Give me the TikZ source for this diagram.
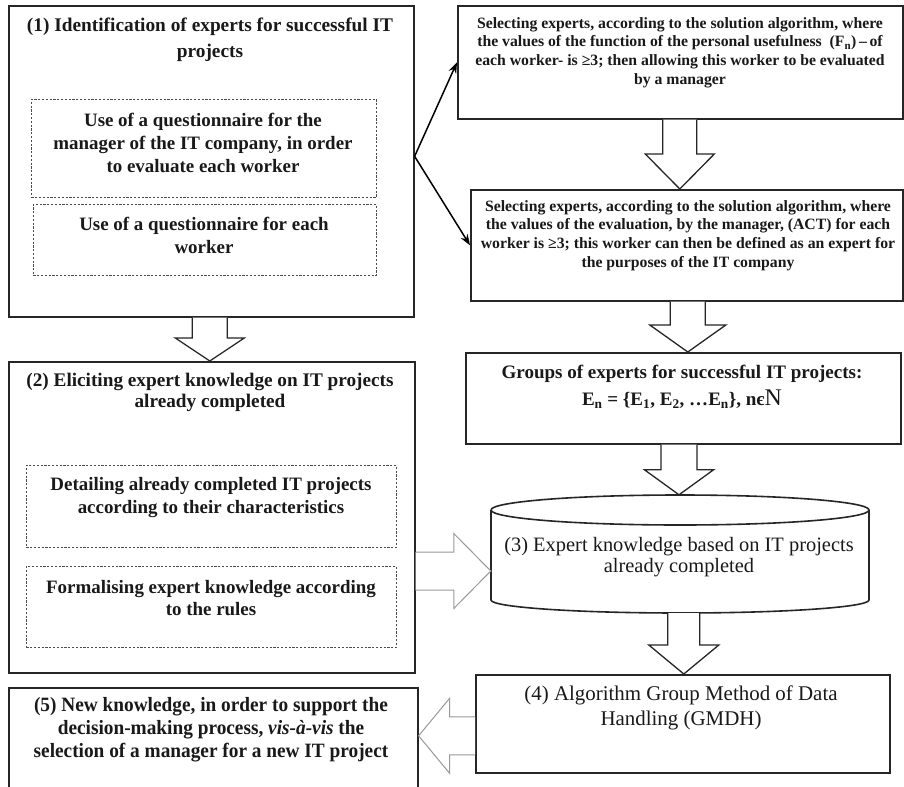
\documentclass[tikz,border=0pt]{standalone}
\usepackage{fontspec}
\setmainfont{Liberation Serif}
\newfontfamily\condserif[FakeStretch=0.95]{Liberation Serif}
\usetikzlibrary{calc,arrows.meta}

% hollow block arrow pointing down: style, source point, tip point, shaft half width, head half width, head length
\newcommand\dnblock[6]{%
  \draw[#1] let \p1=(#2), \p2=(#3) in
    (\x2-#4bp,\y1) -- (\x2-#4bp,\y2+#6bp) -- (\x2-#5bp,\y2+#6bp) -- (\x2,\y2)
    -- (\x2+#5bp,\y2+#6bp) -- (\x2+#4bp,\y2+#6bp) -- (\x2+#4bp,\y1);}
% hollow block arrow pointing right
\newcommand\rtblock[6]{%
  \draw[#1] let \p1=(#2), \p2=(#3) in
    (\x1,\y2+#4bp) -- (\x2-#6bp,\y2+#4bp) -- (\x2-#6bp,\y2+#5bp) -- (\x2,\y2)
    -- (\x2-#6bp,\y2-#5bp) -- (\x2-#6bp,\y2-#4bp) -- (\x1,\y2-#4bp);}
% hollow block arrow pointing left
\newcommand\ltblock[6]{%
  \draw[#1] let \p1=(#2), \p2=(#3) in
    (\x1,\y2+#4bp) -- (\x2+#6bp,\y2+#4bp) -- (\x2+#6bp,\y2+#5bp) -- (\x2,\y2)
    -- (\x2+#6bp,\y2-#5bp) -- (\x2+#6bp,\y2-#4bp) -- (\x1,\y2-#4bp);}

\begin{document}
\begin{tikzpicture}[x=1bp,y=-1bp,
  box/.style={draw=black!85, line width=1.6bp, rectangle, inner sep=0, anchor=north west},
  dbox/.style={draw=black!70, line width=0.9bp, dash pattern=on 2.2bp off 1.6bp,
               rectangle, inner sep=0, anchor=north west},
  lbl/.style={align=center, inner sep=0, text=black!90},
  bigb/.style={lbl, font=\bfseries\fontsize{19.4}{26}\selectfont},
  midb/.style={lbl, font=\bfseries\fontsize{19}{23}\selectfont},
  smallb/.style={lbl, font=\bfseries\fontsize{15.8}{18.8}\selectfont},
  block/.style={draw=black!85, line width=1.3bp, fill=white, line join=miter},
  gblock/.style={draw=black!40, line width=1bp, fill=white, line join=miter},
  link/.style={draw=black, line width=1.5bp, -{Stealth[length=11bp,width=8bp]}}
]
\useasboundingbox (0,0) rectangle (904,787);
\clip (0,0) rectangle (904,787);
\fill[white] (0,0) rectangle (904,787);

% ---- left column
\node[box, minimum width=405bp, minimum height=311bp] (b1) at (8,5) {};
\node[bigb] (t1) at (210,39.5) {(1) Identification of experts for successful IT\\projects};
\node[dbox, minimum width=345bp, minimum height=98bp] (dA) at (31,99) {};
\node[midb] (tA) at (203,143) {Use of a questionnaire for the\\manager of the IT company, in order\\to evaluate each worker};
\node[dbox, minimum width=343bp, minimum height=71bp] (dB) at (33,204) {};
\node[midb] (tB) at (204,235.5) {Use of a questionnaire for each\\worker};

\node[box, minimum width=406bp, minimum height=311bp] (b2) at (8,361) {};
\node[bigb, font=\bfseries\fontsize{19.3}{21}\selectfont] (t2) at (210,392.5) {(2) Eliciting expert knowledge on IT projects\\already completed};
\node[dbox, minimum width=370bp, minimum height=82bp] (dC) at (26,465) {};
\node[midb] (tC) at (211,497.5) {Detailing already completed IT projects\\according to their characteristics};
\node[dbox, minimum width=370bp, minimum height=81bp] (dD) at (26,566) {};
\node[midb, font=\bfseries\fontsize{19}{22}\selectfont] (tD) at (211,598) {Formalising expert knowledge according\\to the rules};

\node[box, minimum width=409bp, minimum height=120bp] (b5) at (8,687) {};
\node[lbl, font=\condserif\bfseries\fontsize{20.4}{23}\selectfont] (t5) at (211,730)
  {(5) New knowledge, in order to support the\\decision-making process, \textit{vis-à-vis} the\\selection of a manager for a new IT project};

% ---- right column
\node[box, minimum width=445bp, minimum height=113bp] (r1) at (457,5) {};
\node[smallb] (tr1) at (680,52.5)
  {Selecting experts, according to the solution algorithm, where\\
   the values of the function of the personal usefulness\ \ (F\textsubscript{n})\,–\,of\\
   each worker- is ≥3; then allowing this worker to be evaluated\\
   by a manager};
\node[box, minimum width=432bp, minimum height=111bp] (r2) at (470,189) {};
\node[smallb] (tr2) at (688,235.5)
  {Selecting experts, according to the solution algorithm, where\\
   the values of the evaluation, by the manager, (ACT) for each\\
   worker is ≥3; this worker can then be defined as an expert for\\
   the purposes of the IT company};
\node[box, minimum width=435bp, minimum height=91bp] (g) at (465,352) {};
\node[bigb, font=\bfseries\fontsize{19.1}{27}\selectfont] (tg) at (682,386.5)
  {Groups of experts for successful IT projects:\\
   E\textsubscript{n} = \{E\textsubscript{1}, E\textsubscript{2}, …E\textsubscript{n}\}, nє{\mdseries\fontsize{24}{24}\selectfont N}};

% knowledge base cylinder
\node[inner sep=0, minimum width=378bp, minimum height=118bp] (cyl) at (680,554) {};
\draw[black!85, line width=1.6bp, fill=white]
  (491,510) -- (491,600) arc[start angle=180, end angle=360, x radius=189bp, y radius=13bp]
  -- (869,510) arc[start angle=0, end angle=180, x radius=189bp, y radius=15bp];
\draw[black!85, line width=1.6bp] (491,510) arc[start angle=180, end angle=360, x radius=189bp, y radius=15bp];
\node[lbl, font=\fontsize{20.5}{21}\selectfont] (tcyl) at (679,557.5)
  {(3) Expert knowledge based on IT projects\\already completed};

\node[box, minimum width=414bp, minimum height=98bp] (b4) at (475,674) {};
\node[lbl, font=\fontsize{21}{25}\selectfont] (t4) at (681,707.5)
  {(4) Algorithm Group Method of Data\\Handling (GMDH)};

% ---- connectors
\draw[link] ([yshift=5bp]b1.east) -- (r1.west);
\draw[link] ([yshift=5bp]b1.east) -- (r2.west);

\dnblock{block}{b1.south}{[xshift=-2bp]b2.north}{17.5}{34.5}{23}
\dnblock{block}{r1.south}{[xshift=-7bp]r2.north}{17}{34.5}{35}
\dnblock{block}{r2.south}{[xshift=4.5bp]g.north}{17.5}{38}{27}
\dnblock{block}{g.south}{[xshift=-1bp]cyl.north}{18}{34.5}{25}
\dnblock{block}{cyl.south}{[xshift=1bp]b4.north}{16}{35}{29}

\rtblock{gblock}{b2.east}{[yshift=-17bp]cyl.west}{19}{37.5}{37}
\ltblock{gblock}{b4.west}{[yshift=12bp]b5.east}{19}{37.5}{31}
\end{tikzpicture}
\end{document}
